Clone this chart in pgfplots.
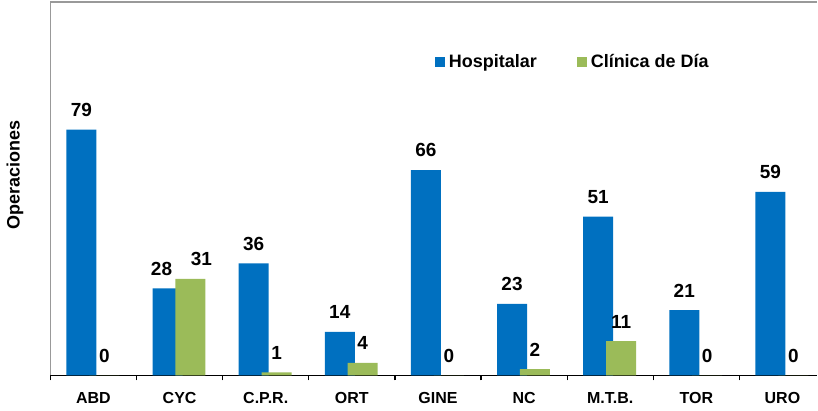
\documentclass[border=0pt]{standalone}
\usepackage{fontspec}
\setmainfont{Liberation Sans}
\usepackage{pgfplots}
\pgfplotsset{compat=1.18}
\definecolor{hosp}{RGB}{0,112,192}
\definecolor{clin}{RGB}{155,187,89}
\begin{document}
\begin{tikzpicture}
\begin{axis}[
  scale only axis, width=384pt, height=187pt,
  xmin=-0.5, xmax=8.404, ymin=0, ymax=120,
  clip=false,
  /pgf/number format/assume math mode=true,
  axis lines*=left, axis line style={-},
  y axis line style={draw=gray!80, line width=0.75pt},
  x axis line style={draw=black, line width=0.6pt},
  ytick=\empty,
  xtick={0,...,8},
  xticklabels={ABD,CYC,C.P.R.,ORT,GINE,NC,M.T.B.,TOR,URO},
  major tick length=0pt,
  minor xtick={-0.5,0.5,...,7.5},
  minor tick length=2.5pt,
  tick align=outside,
  minor tick style={black, line width=0.6pt},
  xticklabel style={font=\bfseries\fontsize{8}{9}\selectfont, yshift=-5pt},
  ylabel={Operaciones},
  ylabel style={font=\bfseries\fontsize{9}{10}\selectfont, at={(rel axis cs:-0.026,0.536)}, anchor=south},
  ybar, bar width=0.348,
  nodes near coords,
  nodes near coords style={font=\bfseries\fontsize{9.5}{10}\selectfont, yshift=3pt, text=black},
  legend columns=2,
  legend style={draw=none, fill=none, inner sep=0pt, at={(0.501,0.838)}, anchor=west,
    font=\bfseries\fontsize{9}{10}\selectfont,
    /tikz/every even column/.append style={column sep=18pt}},
]
\addplot[fill=hosp, draw=none, bar shift=-0.140,
  coordinate style/.condition={x==1}{xshift=-3pt},
  legend image code/.code={\fill[hosp] (0pt,-2.5pt) rectangle (5pt,2.5pt);}]
  coordinates {(0,79) (1,28) (2,36) (3,14) (4,66) (5,23) (6,51) (7,21) (8,59)};
\addplot[fill=clin, draw=none, bar shift=0.126,
  coordinate style/.condition={x==1}{xshift=5.5pt},
  legend image code/.code={\fill[clin] (0pt,-2.5pt) rectangle (5pt,2.5pt);}]
  coordinates {(0,0) (1,31) (2,1) (3,4) (4,0) (5,2) (6,11) (7,0) (8,0)};
\legend{Hospitalar, Clínica de Día}
\draw[gray!80, line width=0.75pt] (rel axis cs:0,1) -- (rel axis cs:1,1);
\path (rel axis cs:0,0) ++(-25pt,-16.5pt) rectangle ++(409pt,204.5pt);
\end{axis}
\end{tikzpicture}
\end{document}
